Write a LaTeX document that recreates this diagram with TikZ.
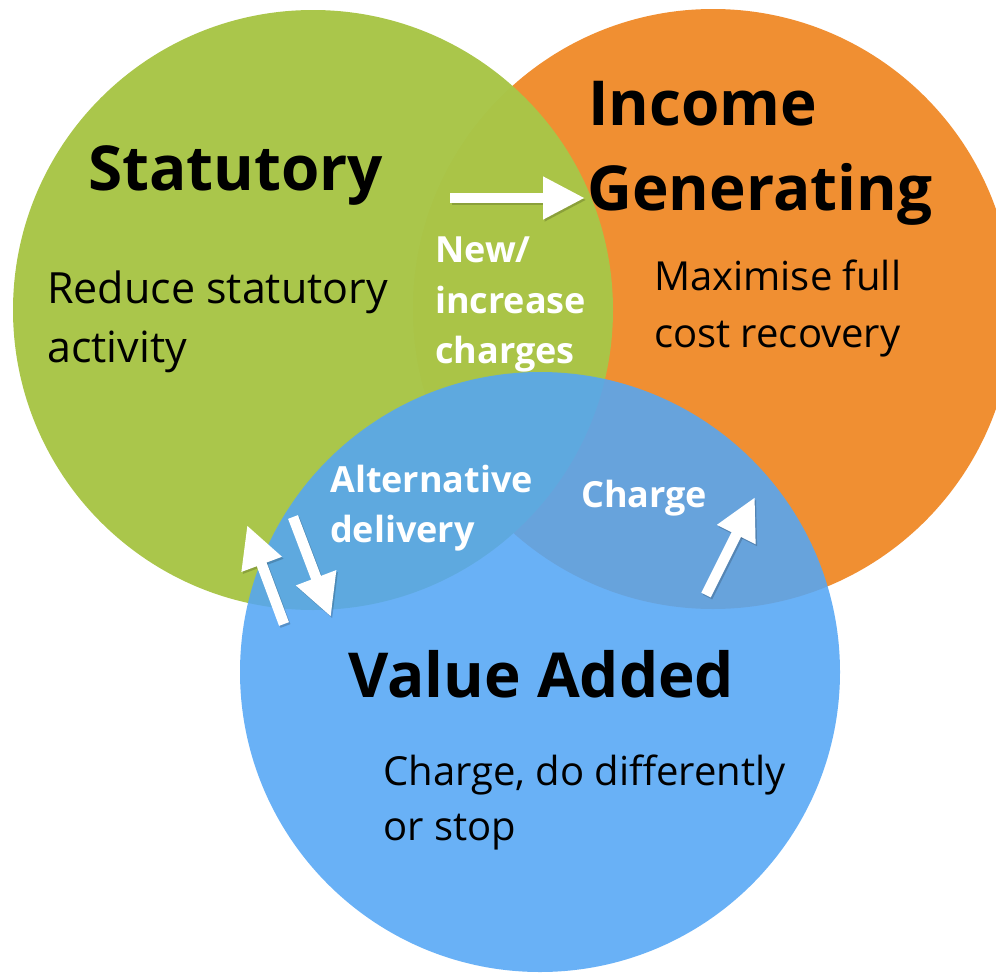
\documentclass[tikz,border=0pt]{standalone}
\usepackage{fontspec}
\setmainfont{Open Sans}
\usetikzlibrary{arrows.meta}
\definecolor{cgreen}{RGB}{169,197,72}
\definecolor{corange}{RGB}{240,143,50}
\definecolor{cblue}{RGB}{84,166,245}
\tikzset{
  setdisc/.style={circle, minimum size=600pt, inner sep=0pt, draw=none},
  titletext/.style={anchor=base west, inner sep=0pt, font=\bfseries\fontsize{62}{74}\selectfont, text=black},
  bodytext/.style={anchor=base west, inner sep=0pt, font=\fontsize{40}{50}\selectfont, text=black},
  overlaptext/.style={anchor=base west, inner sep=0pt, font=\bfseries\fontsize{36}{44}\selectfont, text=white},
  blockarrow/.style={draw=white, line width=10.5pt, line cap=butt, -{Triangle[length=42pt, width=40pt]}},
  arrowshadow/.style={draw=black, opacity=0.18, line width=10.5pt, line cap=butt, -{Triangle[length=42pt, width=40pt]}, transform canvas={shift={(1.5pt,-2pt)}}}
}
\begin{document}
\begin{tikzpicture}[x=1pt, y=-1pt]
\useasboundingbox (0,0) rectangle (996,972);
% discs
\node[setdisc, fill=corange] (income) at (713,309) {};
\node[setdisc, fill=cgreen, fill opacity=0.985] (statutory) at (313,310) {};
\node[setdisc, fill=cblue, fill opacity=0.875] (value) at (540,672) {};
% titles
\node[titletext] (t-stat) at (88,190) {Statutory};
\node[titletext] (t-inc1) at (588,125) {Income};
\node[titletext] (t-inc2) at (587,210) {Generating};
\node[titletext] (t-val) at (348,697) {Value Added};
% body texts
\node[bodytext, font=\fontsize{43}{50}\selectfont] (b-stat1) at (47,303) {Reduce statutory};
\node[bodytext, font=\fontsize{43}{50}\selectfont] (b-stat2) at (47,362) {activity};
\node[bodytext] (b-inc1) at (654,290) {Maximise full};
\node[bodytext] (b-inc2) at (654,347) {cost recovery};
\node[bodytext] (b-val1) at (383,785) {Charge, do differently};
\node[bodytext] (b-val2) at (383,840) {or stop};
% overlap labels
\node[overlaptext] (o-new1) at (435,262) {New/};
\node[overlaptext] (o-new2) at (435,313) {increase};
\node[overlaptext] (o-new3) at (435,363) {charges};
\node[overlaptext] (o-alt1) at (330,492) {Alternative};
\node[overlaptext] (o-alt2) at (330,542) {delivery};
\node[overlaptext] (o-chg) at (581,507) {Charge};
% arrow end points
\coordinate (a1s) at (450,198);
\coordinate (a1e) at (585,198);
\coordinate (a2s) at (284,624);
\coordinate (a2e) at (247,525);
\coordinate (a3s) at (293,517);
\coordinate (a3e) at (331,617);
\coordinate (a4s) at (706,595);
\coordinate (a4e) at (755,497);
% shadows
\draw[arrowshadow] (a1s) -- (a1e);
\draw[arrowshadow] (a2s) -- (a2e);
\draw[arrowshadow] (a3s) -- (a3e);
\draw[arrowshadow] (a4s) -- (a4e);
% arrows
\draw[blockarrow] (a1s) -- (a1e);
\draw[blockarrow] (a2s) -- (a2e);
\draw[blockarrow] (a3s) -- (a3e);
\draw[blockarrow] (a4s) -- (a4e);
\end{tikzpicture}
\end{document}
